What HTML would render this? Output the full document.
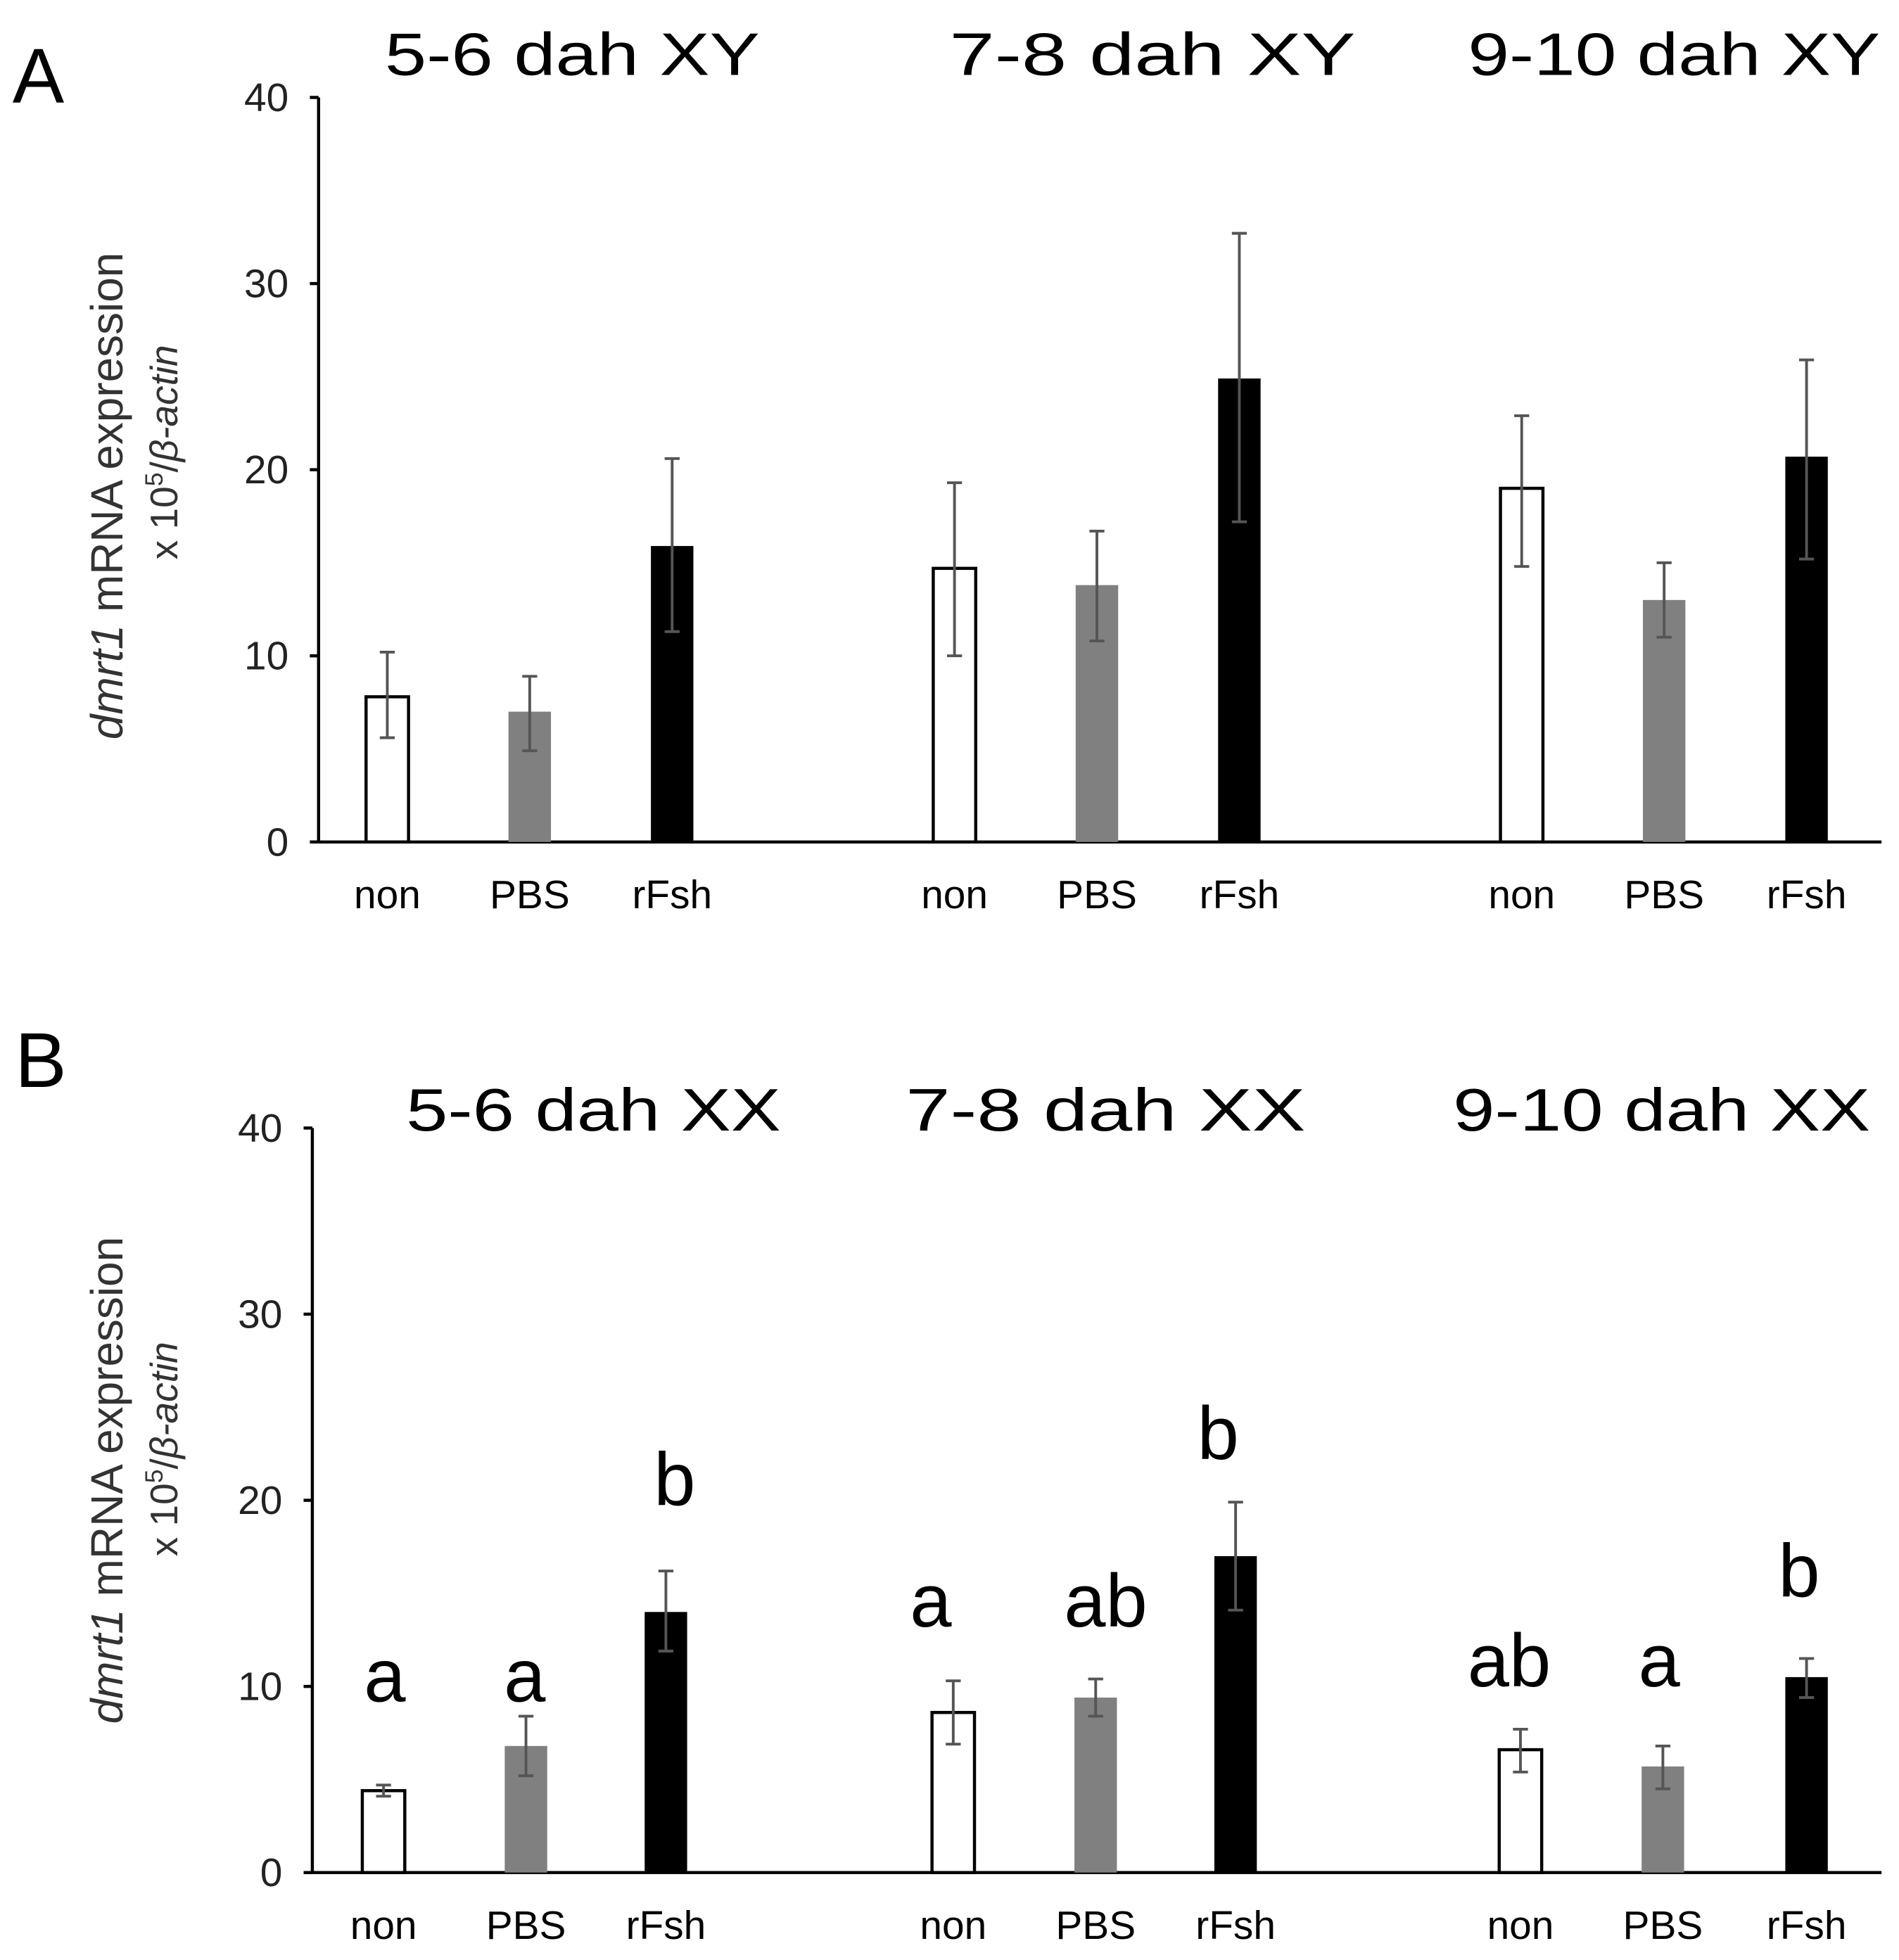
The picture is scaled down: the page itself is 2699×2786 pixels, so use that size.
<!DOCTYPE html>
<html><head><meta charset="utf-8"><style>
html,body{margin:0;padding:0;background:#fff}
svg{display:block}
text{font-family:"Liberation Sans",sans-serif}
</style></head><body>
<svg id="fig" width="2699" height="2786" viewBox="0 0 1520 1569" preserveAspectRatio="none" xmlns="http://www.w3.org/2000/svg"></svg>
<script>
const categories = ["non","PBS","rFsh"];
const groupsA = ["5-6 dah XY","7-8   dah XY","9-10 dah XY"];
const groupsB = ["5-6 dah XX","7-8  dah XX","9-10 dah XX"];
const yTicks = [0,10,20,30,40];
const valuesA = [7.8,7.0,15.9, 14.7,13.8,24.9, 19.0,13.0,20.7];
const lowA = [5.6,4.9,11.3, 10.0,10.8,17.2, 14.8,11.0,15.2];
const highA = [10.2,8.9,20.6, 19.3,16.7,32.7, 22.9,15.0,25.9];
const valuesB = [4.4,6.8,14.0, 8.6,9.4,17.0, 6.6,5.7,10.5];
const lowB = [4.1,5.2,11.9, 6.9,8.4,14.1, 5.4,4.5,9.4];
const highB = [4.7,8.4,16.2, 10.3,10.4,19.9, 7.7,6.8,11.5];
const lettersB = ["a","a","b","a","ab","b","ab","a","b"];
const letterYB = [1362,1362,1205,1302,1302,1168,1350,1350,1278];

const svg=document.getElementById('fig');
const NS="http://www.w3.org/2000/svg";
function mk(tag,attrs,parent){const e=document.createElementNS(NS,tag);for(const k in attrs)e.setAttribute(k,attrs[k]);(parent||svg).appendChild(e);return e;}
const fills=["#fff","#808080","#000"];

function panel(p){
  const g=mk('g',{});
  
  
  const y=v=>p.y0-(v/40)*(p.y0-p.y40);
  const lab=mk('text',{x:p.lx,y:p.ly,'font-size':62},g);lab.textContent=p.label;
  
  
  const ax=mk('line',{x1:p.ax,y1:p.y40,x2:p.ax,y2:p.y0,stroke:'#000','stroke-width':2.5},g);
  
  
  const xx=mk('line',{x1:p.ax,y1:p.y0,x2:1506,y2:p.y0,stroke:'#000','stroke-width':2.5},g);
  
  
  yTicks.forEach(t=>{
    mk('line',{x1:p.ax-7,y1:y(t),x2:p.ax,y2:y(t),stroke:'#000','stroke-width':2.5},g);
    const tl=mk('text',{x:p.ax-24,y:y(t)+11,'font-size':32,'text-anchor':'end',fill:'#222'},g);
    tl.textContent=t;
    
    
  });
  const yt=mk('text',{transform:`translate(98,${p.tcy}) rotate(-90)`,'text-anchor':'middle','font-size':36,fill:'#333'},g);
  yt.innerHTML='<tspan font-style="italic">dmrt1</tspan> mRNA expression';
  
  
  const yt2=mk('text',{transform:`translate(142,${p.scy}) rotate(-90)`,'text-anchor':'middle','font-size':31,fill:'#333'},g);
  yt2.innerHTML='x 10<tspan font-size="20" dy="-12">5</tspan><tspan dy="12">/</tspan><tspan font-style="italic">β-actin</tspan>';
  
  
  p.groups.forEach((gn,gi)=>{
    const tt=mk('text',{x:p.tx[gi],y:p.ty,'font-size':48,textLength:p.tw[gi],lengthAdjust:'spacingAndGlyphs'},g);
    tt.textContent=gn;
    
    
  });
  p.values.forEach((v,i)=>{
    const c=p.centers[i], w=34;
    const r=mk('rect',{x:c-w/2,y:y(v),width:w,height:p.y0-y(v),fill:fills[i%3],stroke:i%3==0?'#000':'none','stroke-width':2.5},g);
    
    
    const eb=mk('path',{d:`M${c},${y(p.low[i])}V${y(p.high[i])}M${c-6},${y(p.low[i])}H${c+6}M${c-6},${y(p.high[i])}H${c+6}`,stroke:'#555','stroke-width':2.2,fill:'none'},g);
    
    
    const cl=mk('text',{x:c,y:p.cy,'font-size':p.cfs,'text-anchor':'middle','font-family':p.cff},g);
    cl.textContent=categories[i%3];
    
    
    if(p.letters){
      const lt=mk('text',{x:p.letterX[i],y:p.letterY[i],'font-size':60,'text-anchor':'middle'},g);
      lt.textContent=p.letters[i];
      
      
    }
  });
}
panel({name:'panel-a',label:'A',lx:10,ly:82,ax:255,y0:674,y40:78,groups:groupsA,tx:[308,760,1175],tw:[300,325,330],ty:60,tcy:397,scy:362,
  values:valuesA,low:lowA,high:highA,centers:[310,424,538,764,878,992,1218,1332,1446],cy:727,cfs:32,cff:'Liberation Sans'});
panel({name:'panel-b',label:'B',lx:12,ly:870,ax:250,y0:1499,y40:903,groups:groupsB,tx:[325,725,1163],tw:[300,320,334],ty:905,tcy:1185,scy:1160,
  values:valuesB,low:lowB,high:highB,centers:[307,421,533,763,877,989,1217,1331,1446],cy:1552,cfs:32,cff:'Liberation Serif',
  letters:lettersB,letterY:letterYB,letterX:[308,420,540,745,885,975,1208,1328,1440]});
</script>
</body></html>
